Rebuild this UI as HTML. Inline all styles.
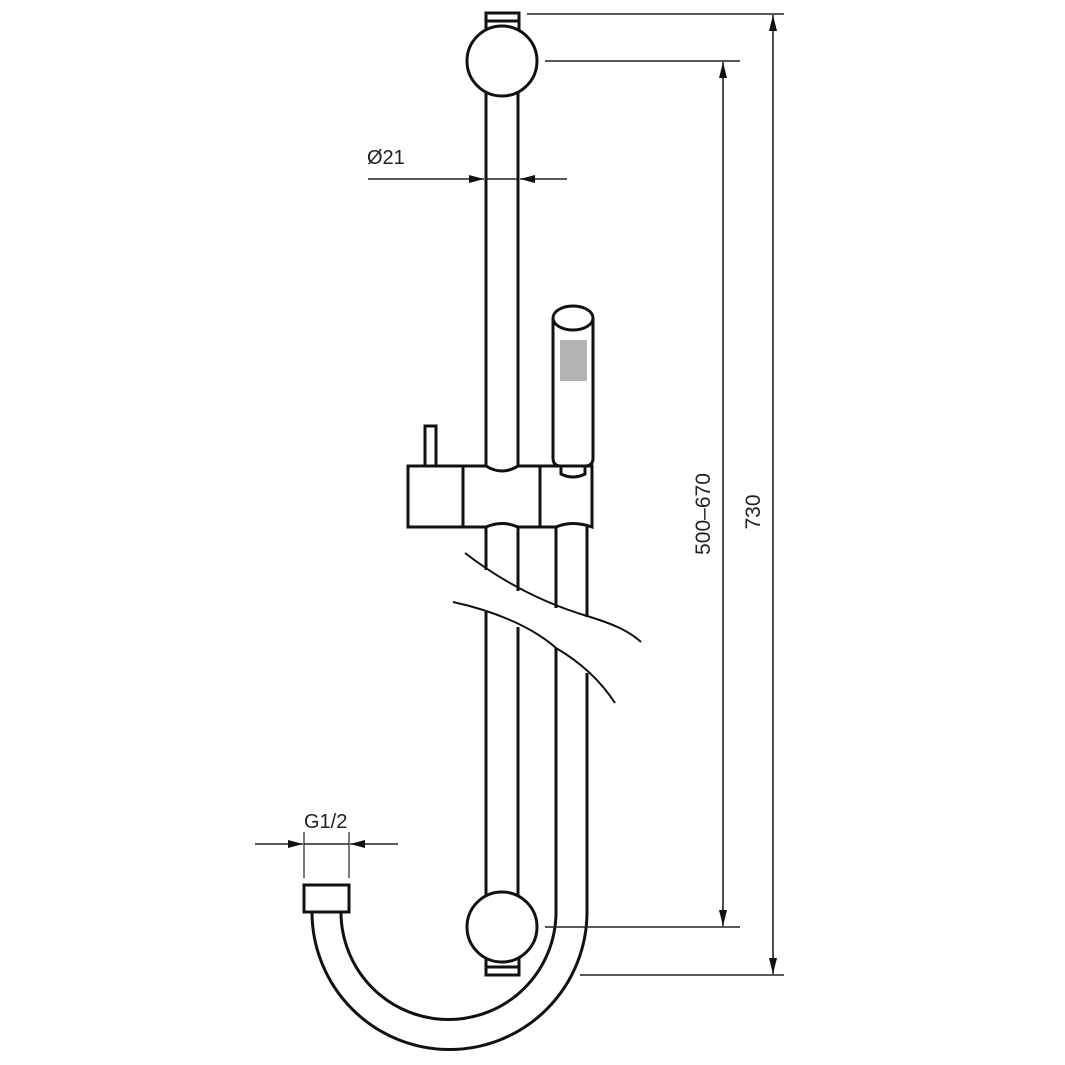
<!DOCTYPE html>
<html><head><meta charset="utf-8"><style>html,body{margin:0;padding:0;background:#fff}svg{display:block}</style></head>
<body>
<svg width="1065" height="1065" viewBox="0 0 1065 1065" xmlns="http://www.w3.org/2000/svg">
<defs>
<marker id="ar" viewBox="0 0 10 10" refX="10" refY="5" markerWidth="15" markerHeight="8" markerUnits="userSpaceOnUse" orient="auto-start-reverse" preserveAspectRatio="none"><path d="M0,0 L10,5 L0,10 z" fill="#111"/></marker>
<marker id="ar2" viewBox="0 0 10 10" refX="10" refY="5" markerWidth="16" markerHeight="8" markerUnits="userSpaceOnUse" orient="auto-start-reverse" preserveAspectRatio="none"><path d="M0,0 L10,5 L0,10 z" fill="#111"/></marker>
</defs>
<g fill="none" stroke="#111" stroke-width="3">
<rect x="486" y="13" width="33" height="17" fill="#fff"/>
<line x1="486" y1="21" x2="519" y2="21"/>
<line x1="486" y1="90" x2="486" y2="467"/>
<line x1="518" y1="90" x2="518" y2="467"/>
<circle cx="502" cy="61" r="35" fill="#fff"/>
<line x1="486" y1="527" x2="486" y2="570"/>
<line x1="518" y1="527" x2="518" y2="591"/>
<line x1="556" y1="527" x2="556" y2="608"/>
<line x1="587" y1="527" x2="587" y2="617"/>
<line x1="486" y1="612" x2="486" y2="897"/>
<line x1="518" y1="627" x2="518" y2="897"/>
<line x1="556" y1="648" x2="556" y2="912"/>
<line x1="587" y1="673" x2="587" y2="912"/>
<path d="M556,912 A107.5,107.5 0 0 1 341,912"/>
<path d="M587,912 A137.5,137.5 0 0 1 312,912"/>
<rect x="304" y="885" width="45" height="27" fill="#fff"/>
<rect x="486" y="958" width="33" height="17" fill="#fff"/>
<line x1="486" y1="967" x2="519" y2="967"/>
<circle cx="502" cy="927" r="35" fill="#fff"/>
<rect x="425" y="426" width="11" height="40" fill="#fff"/>
<path d="M408,466 L486,466 Q502,476 518,466 L592,466 L592,527 Q572,520 556,527 L518,527 Q502,520 486,527 L408,527 Z" fill="#fff"/>
<line x1="463" y1="466" x2="463" y2="527"/>
<line x1="540" y1="466" x2="540" y2="527"/>
<path d="M561,466 L561,474 Q573,480 585,474 L585,466" fill="#fff"/>
<path d="M553,318 L553,458 Q553,466 561,466 L585,466 Q593,466 593,458 L593,318" fill="#fff"/>
<ellipse cx="573" cy="318" rx="20" ry="12" fill="#fff"/>
</g>
<rect x="560" y="340" width="27" height="41" fill="#b3b3b3"/>
<g fill="none" stroke="#111" stroke-width="2">
<path d="M465,553 C500,580 540,602 587,616 C610,623 628,630 641,642"/>
<path d="M453,602 C490,610 530,625 556,648 C580,662 600,680 615,703"/>
</g>
<g stroke="#222" stroke-width="1.6" fill="none">
<line x1="527" y1="14" x2="784" y2="14"/>
<line x1="545" y1="61" x2="740" y2="61"/>
<line x1="545" y1="927" x2="740" y2="927"/>
<line x1="580" y1="975" x2="784" y2="975"/>
<line x1="773" y1="15" x2="773" y2="974" marker-start="url(#ar2)" marker-end="url(#ar2)"/>
<line x1="723" y1="62" x2="723" y2="926" marker-start="url(#ar2)" marker-end="url(#ar2)"/>
<line x1="368" y1="179" x2="484" y2="179" marker-end="url(#ar)"/>
<line x1="486" y1="179" x2="518" y2="179"/>
<line x1="567" y1="179" x2="520" y2="179" marker-end="url(#ar)"/>
<line x1="255" y1="844" x2="303" y2="844" marker-end="url(#ar)"/>
<line x1="304" y1="844" x2="349" y2="844"/>
<line x1="398" y1="844" x2="350" y2="844" marker-end="url(#ar)"/>
<line x1="304" y1="832" x2="304" y2="878" stroke-width="1.2"/>
<line x1="349" y1="832" x2="349" y2="878" stroke-width="1.2"/>
</g>
<g font-family="Liberation Sans, sans-serif" font-size="20" fill="#222">
<text x="367" y="164">Ø21</text>
<text x="304" y="828">G1/2</text>
<text transform="translate(710,514) rotate(-90)" text-anchor="middle" font-size="21">500–670</text>
<text transform="translate(760,512) rotate(-90)" text-anchor="middle" font-size="21">730</text>
</g>
</svg>
</body></html>
